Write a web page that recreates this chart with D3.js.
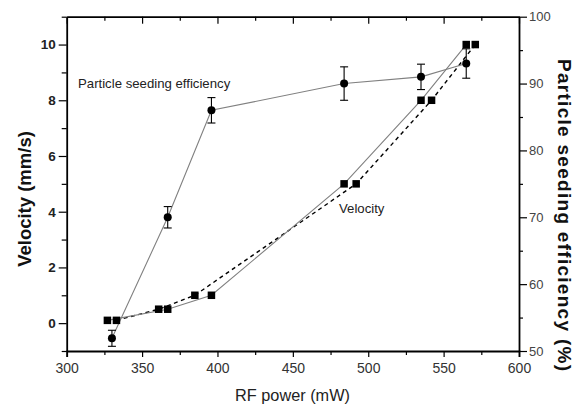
<!DOCTYPE html>
<html><head><meta charset="utf-8">
<script src="https://cdn.jsdelivr.net/npm/d3@7"></script>
<style>body{margin:0;background:#fff}svg{display:block}</style>
</head><body>
<svg id="c" width="580" height="405"></svg>
<script>
// Data
const powerEff   = [330, 367, 396, 484, 535, 565];
const efficiency = [51.9, 70.0, 86.0, 90.0, 91.0, 93.0];
const effError   = [1.2, 1.6, 1.9, 2.5, 1.9, 2.2];
const powerVelA  = [327, 367, 396, 484, 535, 565];
const velocityA  = [0.1, 0.5, 1.0, 5.0, 8.0, 10.0];
const powerVelB  = [333, 361, 385, 492, 542, 571];
const velocityB  = [0.1, 0.5, 1.0, 5.0, 8.0, 10.0];
const xTicks = [300, 350, 400, 450, 500, 550, 600];
const xMinor = [325, 375, 425, 475, 525, 575];
const yLTicks = [0, 2, 4, 6, 8, 10];
const yLMinor = [-1, 1, 3, 5, 7, 9, 11];
const yRTicks = [50, 60, 70, 80, 90, 100];
const yRMinor = [55, 65, 75, 85, 95];

const svg = d3.select("#c");
const L = 66.7, R = 519, T = 16.7, B = 351;
const x = d3.scaleLinear().domain([300, 600]).range([L, R]);
const yL = d3.scaleLinear().domain([-1, 11]).range([B, T]);
const yR = d3.scaleLinear().domain([50, 100]).range([B, T]);

const font = "Arial, 'Liberation Sans', sans-serif";

function styleAxis(g, fs, weight, color) {
  g.select(".domain").attr("stroke", "#000").attr("stroke-width", 1.8);
  g.selectAll(".tick line").attr("stroke", "#000").attr("stroke-width", 1.2);
  g.selectAll(".tick text").attr("font-family", font).attr("font-size", fs)
    .attr("font-weight", weight).attr("fill", color);
}
function minor(g) {
  g.select(".domain").remove();
  g.selectAll("line").attr("stroke", "#000").attr("stroke-width", 1.2);
}

// bottom axis
const gB = svg.append("g").attr("transform", `translate(0,${B})`)
  .call(d3.axisBottom(x).tickValues(xTicks).tickSize(6).tickPadding(6).tickFormat(d3.format("d")));
styleAxis(gB, 14, "normal", "#333");
svg.append("g").attr("transform", `translate(0,${B})`)
  .call(d3.axisBottom(x).tickValues(xMinor).tickSize(4).tickFormat("")).call(minor);

// top axis (inward ticks)
const gT = svg.append("g").attr("transform", `translate(0,${T})`)
  .call(d3.axisTop(x).tickValues(xTicks).tickSizeInner(-7).tickSizeOuter(0).tickFormat(""));
styleAxis(gT, 12, "normal", "#333");
svg.append("g").attr("transform", `translate(0,${T})`)
  .call(d3.axisTop(x).tickValues(xMinor).tickSizeInner(-4).tickSizeOuter(0).tickFormat("")).call(minor);

// left axis
const gL = svg.append("g").attr("transform", `translate(${L},0)`)
  .call(d3.axisLeft(yL).tickValues(yLTicks).tickSizeInner(8).tickSizeOuter(0).tickPadding(3).tickFormat(d3.format("d")));
styleAxis(gL, 13.5, "bold", "#222");
svg.append("g").attr("transform", `translate(${L},0)`)
  .call(d3.axisLeft(yL).tickValues(yLMinor).tickSize(5).tickFormat("")).call(minor);

// right axis
const gR = svg.append("g").attr("transform", `translate(${R},0)`)
  .call(d3.axisRight(yR).tickValues(yRTicks).tickSizeInner(8).tickSizeOuter(0).tickPadding(2).tickFormat(d3.format("d")));
styleAxis(gR, 13, "normal", "#444");
svg.append("g").attr("transform", `translate(${R},0)`)
  .call(d3.axisRight(yR).tickValues(yRMinor).tickSize(4).tickFormat("")).call(minor);

// Lines
const lineL = d3.line().x(d => x(d[0])).y(d => yL(d[1]));
const lineR = d3.line().x(d => x(d[0])).y(d => yR(d[1]));
const effData = powerEff.map((p, i) => [p, efficiency[i], effError[i]]);
const velA = powerVelA.map((p, i) => [p, velocityA[i]]);
const velB = powerVelB.map((p, i) => [p, velocityB[i]]);

svg.append("path").datum(velB).attr("d", lineL).attr("fill", "none")
  .attr("stroke", "#000").attr("stroke-width", 1.4).attr("stroke-dasharray", "4,3.5");
svg.append("path").datum(velA).attr("d", lineL).attr("fill", "none")
  .attr("stroke", "#808080").attr("stroke-width", 1.1);
svg.append("path").datum(effData).attr("d", lineR).attr("fill", "none")
  .attr("stroke", "#808080").attr("stroke-width", 1.1);

// error bars
const eb = svg.append("g").attr("stroke", "#000").attr("stroke-width", 1.1);
effData.forEach(d => {
  const cx = x(d[0]), y1 = yR(d[1] + d[2]), y2 = yR(d[1] - d[2]);
  eb.append("line").attr("x1", cx).attr("x2", cx).attr("y1", y1).attr("y2", y2);
  eb.append("line").attr("x1", cx - 4).attr("x2", cx + 4).attr("y1", y1).attr("y2", y1);
  eb.append("line").attr("x1", cx - 4).attr("x2", cx + 4).attr("y1", y2).attr("y2", y2);
});

// squares
const sq = 7.5;
svg.append("g").selectAll("rect").data(velA.concat(velB)).join("rect")
  .attr("x", d => x(d[0]) - sq / 2).attr("y", d => yL(d[1]) - sq / 2)
  .attr("width", sq).attr("height", sq).attr("fill", "#000");

// circles
svg.append("g").selectAll("circle").data(effData).join("circle")
  .attr("cx", d => x(d[0])).attr("cy", d => yR(d[1])).attr("r", 4).attr("fill", "#000");

// annotations
svg.append("text").attr("x", 78).attr("y", 88).attr("font-family", font).attr("font-size", 13.2)
  .attr("fill", "#222").text("Particle seeding efficiency");
svg.append("text").attr("x", 339).attr("y", 213).attr("font-family", font).attr("font-size", 13.2)
  .attr("fill", "#222").text("Velocity");

// axis titles
svg.append("text").attr("transform", "translate(31,199) rotate(-90)").attr("text-anchor", "middle")
  .attr("font-family", font).attr("font-size", 18.5).attr("font-weight", "bold").attr("fill", "#111")
  .text("Velocity (mm/s)");
svg.append("text").attr("x", 292.5).attr("y", 401).attr("text-anchor", "middle")
  .attr("font-family", font).attr("font-size", 16.3).attr("fill", "#222").text("RF power (mW)");
svg.append("text").attr("transform", "translate(558,215) rotate(90)").attr("text-anchor", "middle")
  .attr("font-family", font).attr("font-size", 19).attr("font-weight", "bold").attr("fill", "#111")
  .attr("textLength", 312).attr("lengthAdjust", "spacing")
  .text("Particle seeding efficiency (%)");
</script>
</body></html>
